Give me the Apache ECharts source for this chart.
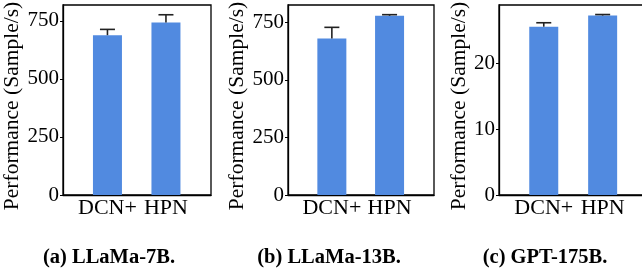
<!DOCTYPE html>
<html>
<head>
<meta charset="utf-8">
<script src="https://cdn.jsdelivr.net/npm/echarts@6/dist/echarts.min.js"></script>
<style>
  html, body { margin: 0; padding: 0; background: #fff; }
  #chart { width: 642px; height: 274px; }
</style>
</head>
<body>
<div id="chart"></div>
<script>
// 数据
const categories = ['DCN+', 'HPN']
const captions = ['(a) LLaMa-7B.', '(b) LLaMa-13B.', '(c) GPT-175B.']
const perf7b = [688, 743]
const err7b = [25, 33]
const perf13b = [679, 778]
const err13b = [49, 5]
const perf175b = [25.6, 27.3]
const err175b = [0.6, 0.15]
const yMax = [818, 825, 28.9]
const yStep = [250, 250, 10]

const panels = [
  { values: perf7b, errs: err7b, left: 63, right: 431 },
  { values: perf13b, errs: err13b, left: 288, right: 208 },
  { values: perf175b, errs: err175b, left: 499, right: -6 }
]
const captionX = [109, 329, 545]
const font = '"Liberation Serif", "Times New Roman", Times, "DejaVu Serif", serif'
const barColor = '#518ae0'

const grids = [], xAxes = [], yAxes = [], series = []
panels.forEach((p, i) => {
  grids.push({
    left: p.left, right: p.right, top: 5, bottom: 79,
    outerBoundsMode: 'none',
    show: true, borderColor: '#000', borderWidth: 1.3
  })
  xAxes.push({
    type: 'value', gridIndex: i, min: -0.76, max: 1.77,
    axisLine: { show: true, onZero: false, lineStyle: { color: '#000', width: 1.3 } },
    axisTick: { show: false },
    splitLine: { show: false },
    axisLabel: {
      customValues: [0, 1],
      formatter: v => categories[Math.round(v)],
      fontFamily: font, fontSize: 22, color: '#000', margin: 2
    }
  })
  yAxes.push({
    type: 'value', gridIndex: i, min: 0, max: yMax[i], interval: yStep[i],
    name: 'Performance (Sample/s)',
    nameLocation: 'middle', nameRotate: 90, nameGap: 28,
    nameTextStyle: { fontFamily: font, fontSize: 21.5, color: '#000', padding: [0, 12, 0, 0] },
    axisLine: { show: true, onZero: false, lineStyle: { color: '#000', width: 1.3 } },
    axisTick: { show: true, inside: false, length: 3, lineStyle: { color: '#000' } },
    splitLine: { show: false },
    axisLabel: {
      showMaxLabel: false,
      fontFamily: font, fontSize: 21, color: '#000', margin: 4
    }
  })
  series.push({
    type: 'bar', xAxisIndex: i, yAxisIndex: i, barWidth: 29,
    itemStyle: { color: barColor },
    data: p.values.map((v, k) => [k, v])
  })
  // 误差线，只画上半部分
  series.push({
    type: 'custom', xAxisIndex: i, yAxisIndex: i, z: 5,
    data: p.values.map((v, k) => [k, v, v + p.errs[k]]),
    renderItem: (params, api) => {
      const base = api.coord([api.value(0), api.value(1)])
      const top = api.coord([api.value(0), api.value(2)])
      const half = 7.5
      const style = { stroke: '#222', lineWidth: 1.6 }
      return {
        type: 'group',
        children: [
          { type: 'line', shape: { x1: base[0], y1: base[1], x2: top[0], y2: top[1] }, style },
          { type: 'line', shape: { x1: top[0] - half, y1: top[1], x2: top[0] + half, y2: top[1] }, style }
        ]
      }
    }
  })
})

const chart = echarts.init(document.getElementById('chart'))
chart.setOption({
  animation: false,
  grid: grids,
  xAxis: xAxes,
  yAxis: yAxes,
  series,
  graphic: captions.map((t, i) => ({
    type: 'text', x: captionX[i], y: 258,
    style: {
      text: t, fontFamily: font, fontWeight: 'bold', fontSize: 20.5, fill: '#000',
      align: 'center', verticalAlign: 'middle'
    }
  }))
})
</script>
</body>
</html>
